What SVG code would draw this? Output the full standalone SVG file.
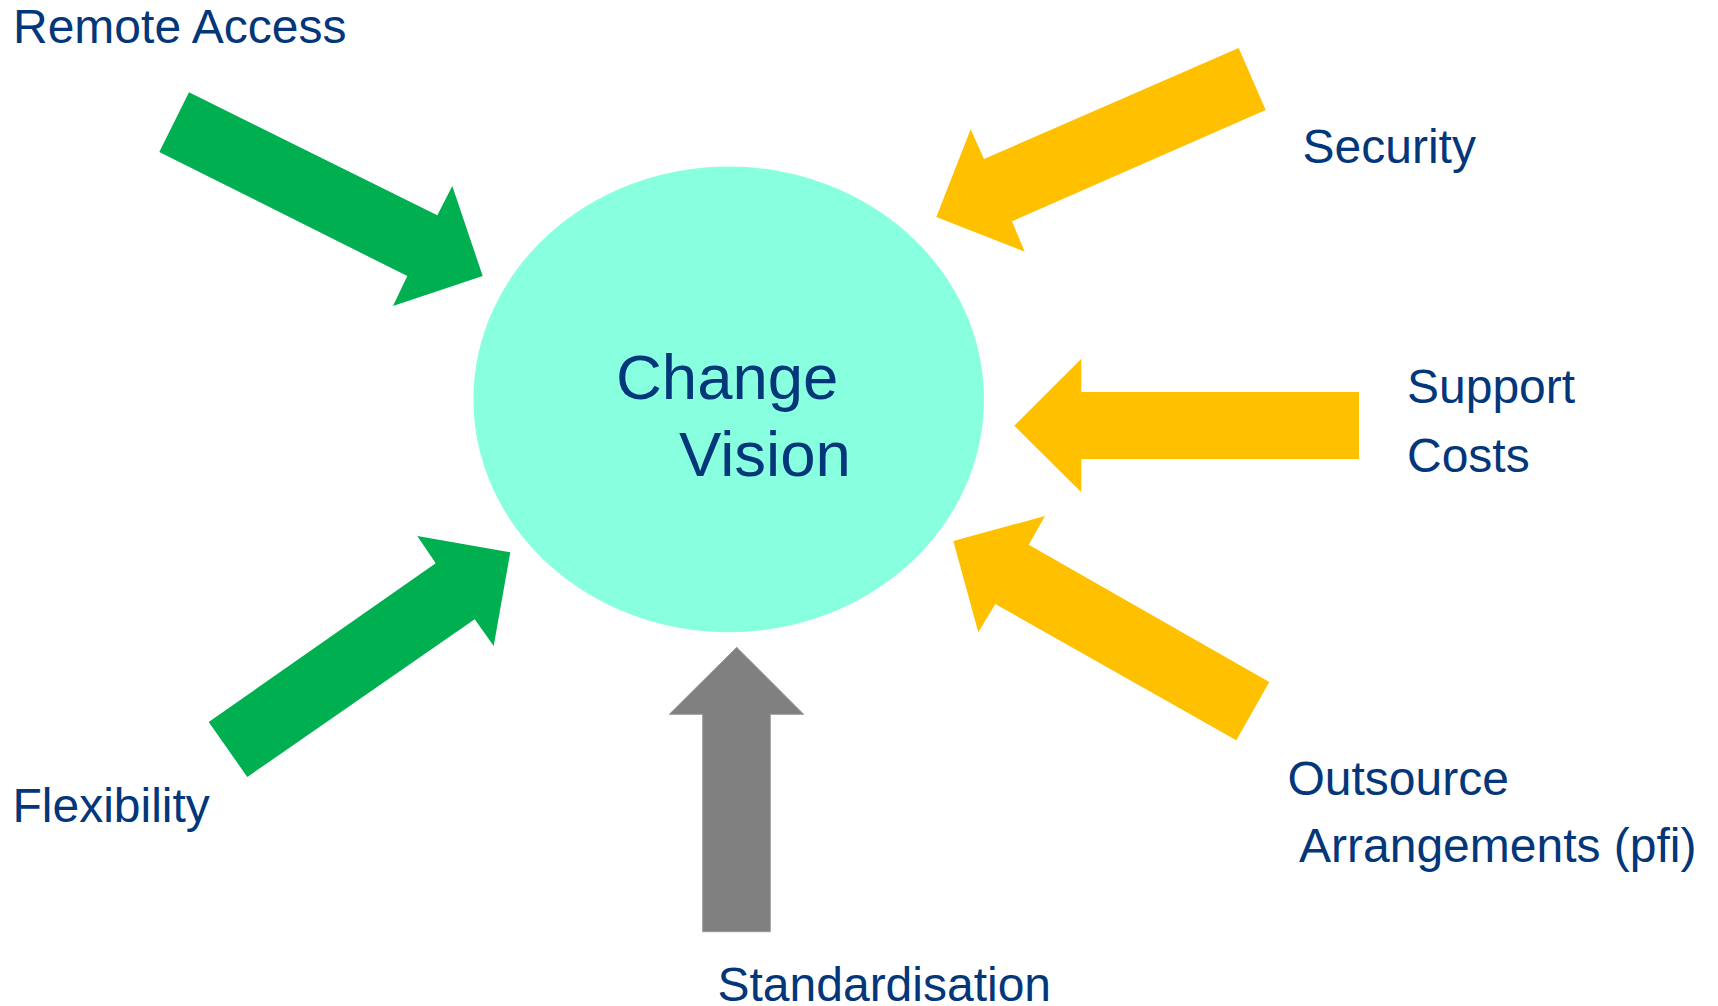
<svg xmlns="http://www.w3.org/2000/svg" width="1718" height="1006" viewBox="0 0 1718 1006">
<style>
.lbl{font-family:"Liberation Sans",Arial,sans-serif;font-size:48px;fill:#03377A}
.big{font-family:"Liberation Sans",Arial,sans-serif;font-size:63.5px;fill:#03377A}
.green{fill:#00B050}
.amber{fill:#FFC000}
.gray{fill:#808080;stroke:#999999;stroke-width:1}
</style>
<rect x="0" y="0" width="1718" height="1006" fill="#FFFFFF"/>
<g id="change-vision">
<ellipse cx="728.7" cy="399.4" rx="255.3" ry="232.9" fill="#88FFDF"/>
<text class="big" x="616" y="399.3">Change</text>
<text class="big" x="679" y="476">Vision</text>
</g>
<g id="connectors">
<polygon class="green" points="189,92.3 437.3,215.3 452.3,186 482.7,276 393,306 407.3,276 159.3,152"/>
<polygon class="amber" points="1238.7,48 1265.7,110 1012,221.3 1024.7,251.7 936.3,217 970.7,129.3 984,159"/>
<polygon class="amber" points="1359,392 1081.3,392 1081.3,358.7 1014.3,425.7 1081.3,492.3 1081.3,459 1359,459"/>
<polygon class="green" points="208.7,722 435.7,563.3 417.3,536 510.3,552.3 493.7,646 474.7,619.3 247.3,777"/>
<polygon class="amber" points="1269.3,682 1028.7,544.7 1045,516 953.3,541 978.3,632.3 995.3,604 1236.3,740.3"/>
<polygon class="gray" points="702.7,931.7 702.7,714.3 669.3,714.3 736.7,647.3 803.7,714.3 770.3,714.3 770.3,931.7"/>
</g>
<g id="remote-access"><text class="lbl" x="13" y="43.3">Remote Access</text></g>
<g id="security"><text class="lbl" x="1302.5" y="163.3">Security</text></g>
<g id="support-costs"><text class="lbl" x="1407" y="403.3">Support</text><text class="lbl" x="1407" y="471.7">Costs</text></g>
<g id="outsource"><text class="lbl" x="1287.5" y="794.5">Outsource</text><text class="lbl" x="1299" y="862">Arrangements (pfi)</text></g>
<g id="flexibility"><text class="lbl" x="12.5" y="822">Flexibility</text></g>
<g id="standardisation"><text class="lbl" x="717.5" y="1001">Standardisation</text></g>
</svg>
